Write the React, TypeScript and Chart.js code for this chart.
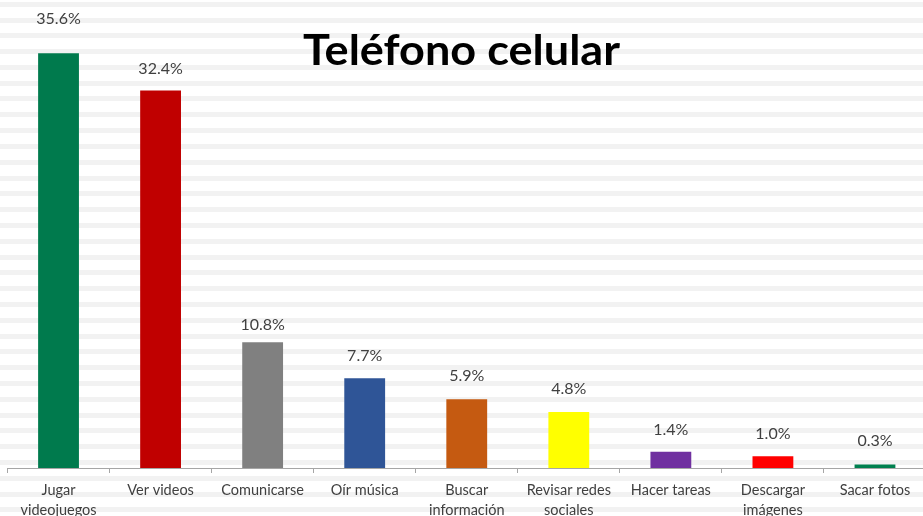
import React, { useEffect, useRef } from "react";
import { Chart, registerables } from "chart.js";

Chart.register(...registerables);

const categories: string[][] = [
  ["Jugar", "videojuegos"],
  ["Ver videos"],
  ["Comunicarse"],
  ["Oír música"],
  ["Buscar", "información"],
  ["Revisar redes", "sociales"],
  ["Hacer tareas"],
  ["Descargar", "imágenes"],
  ["Sacar fotos"],
];
const values: number[] = [35.6, 32.4, 10.8, 7.7, 5.9, 4.8, 1.4, 1.0, 0.3];
const valueLabels: string[] = ["35.6%", "32.4%", "10.8%", "7.7%", "5.9%", "4.8%", "1.4%", "1.0%", "0.3%"];
const barColors: string[] = [
  "#007A4D",
  "#C00000",
  "#808080",
  "#2F5597",
  "#C55A11",
  "#FFFF00",
  "#7030A0",
  "#FF0000",
  "#00804F",
];
const labelLift: number[] = [34, 22, 17, 22, 23, 23, 22, 23, 24];
const title = "Teléfono celular";

const stripesPlugin = {
  id: "stripes",
  beforeDraw(chart: any) {
    const ctx = chart.ctx;
    ctx.save();
    ctx.fillStyle = "#ffffff";
    ctx.fillRect(0, 0, chart.width, chart.height);
    ctx.fillStyle = "#f2f2f2";
    for (let y = 1.7; y < chart.height; y += 15.8) {
      ctx.fillRect(0, Math.round(y), chart.width, 5);
    }
    ctx.restore();
  },
};

const labelsPlugin = {
  id: "valueLabels",
  afterDatasetsDraw(chart: any) {
    const ctx = chart.ctx;
    const meta = chart.getDatasetMeta(0);
    ctx.save();
    ctx.font = "16px Lato";
    ctx.fillStyle = "#404040";
    ctx.textAlign = "center";
    ctx.textBaseline = "middle";
    meta.data.forEach((bar: any, i: number) => {
      ctx.fillText(valueLabels[i], bar.x, bar.y - labelLift[i]);
    });
    ctx.restore();
  },
  afterDraw(chart: any) {
    const ctx = chart.ctx;
    ctx.save();
    ctx.font = "bold 42px Lato";
    ctx.fillStyle = "#000000";
    ctx.textAlign = "center";
    ctx.textBaseline = "alphabetic";
    const w = ctx.measureText(title).width;
    const target = 317;
    const cx = 461.5;
    ctx.translate(cx, 65);
    ctx.scale(target / w, 1);
    ctx.fillText(title, 0, 0);
    ctx.restore();
  },
};

export default function App() {
  const ref = useRef<HTMLCanvasElement | null>(null);
  useEffect(() => {
    if (!ref.current) return;
    const chart = new Chart(ref.current, {
      type: "bar",
      data: {
        labels: categories,
        datasets: [
          {
            data: values,
            backgroundColor: barColors,
            barPercentage: 0.4,
            categoryPercentage: 1,
          },
        ],
      },
      options: {
        animation: false,
        responsive: false,
        layout: { padding: { left: 7.5, right: 0, top: 2, bottom: 0 } },
        plugins: {
          legend: { display: false },
          tooltip: { enabled: false },
          title: { display: false },
        },
        scales: {
          y: {
            display: false,
            min: 0,
            max: 40,
          },
          x: {
            afterFit(scale: any) {
              scale.height = 48;
            },
            grid: {
              display: true,
              drawOnChartArea: false,
              drawTicks: true,
              tickLength: 5,
              color: "#a6a6a6",
              offset: true,
            },
            border: { display: true, color: "#a6a6a6", width: 1 },
            ticks: {
              color: "#404040",
              font: { family: "Lato", size: 14.5, lineHeight: "20px" },
              padding: 7,
              maxRotation: 0,
              autoSkip: false,
            },
          },
        },
      },
      plugins: [stripesPlugin, labelsPlugin],
    });
    return () => chart.destroy();
  }, []);
  return (
    <div style={{ position: "absolute", left: 0, top: 0, width: 923, height: 516, overflow: "hidden" }}>
      <canvas ref={ref} width={926} height={516} style={{ display: "block" }} />
    </div>
  );
}
